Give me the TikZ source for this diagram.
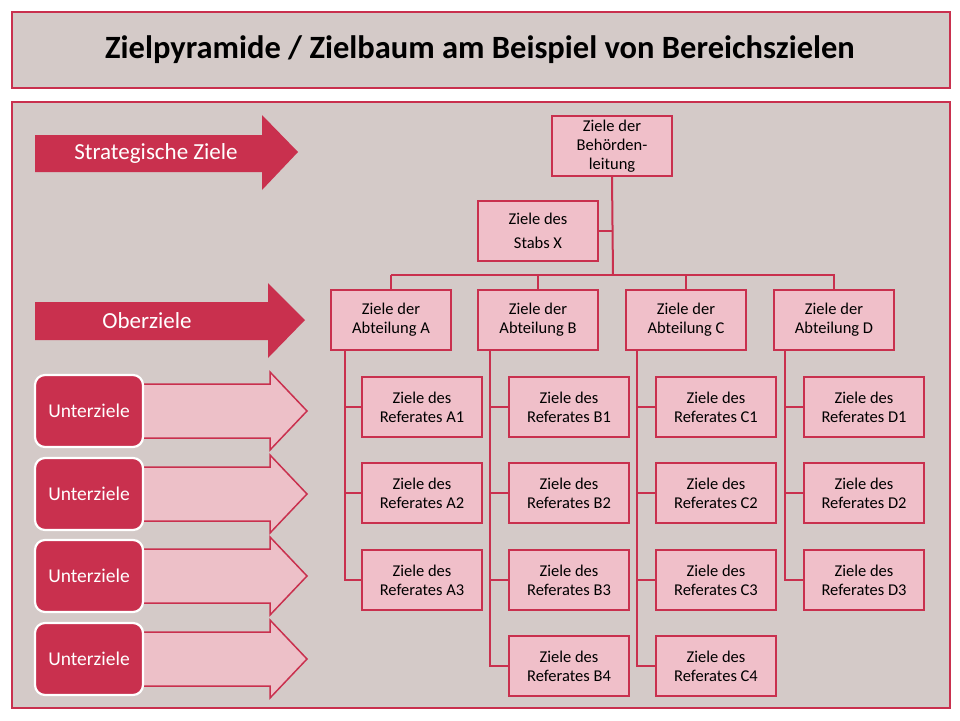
\documentclass[tikz,border=0pt]{standalone}
\usepackage{fontspec}
\setmainfont{Carlito}
\definecolor{crim}{HTML}{C9304E}
\definecolor{rose}{HTML}{F0BFC9}
\definecolor{bgr}{HTML}{D4CAC8}
\definecolor{lightarr}{HTML}{EDC0C8}
\tikzset{
  goal/.style={draw=crim,line width=2.2pt,fill=rose,minimum width=120pt,minimum height=60pt,
    align=center,font=\fontsize{16.5}{19}\selectfont,inner sep=0pt},
  link/.style={draw=crim,line width=2pt},
  frame/.style={draw=crim,line width=2pt,fill=bgr},
  levelbox/.style={draw=white,line width=2.2pt,fill=crim,rounded corners=10pt,text=white,
    minimum width=108pt,minimum height=72pt,font=\fontsize{19.5}{22}\selectfont,inner sep=0pt}
}
\begin{document}
\begin{tikzpicture}[x=1pt,y=-1pt]
\useasboundingbox (0,0) rectangle (960,720);
\draw [frame] (12,12) rectangle (950,88);
\node (title) at (480,50) {\fontsize{32.5}{36}\selectfont\bfseries Zielpyramide / Zielbaum am Beispiel von Bereichszielen};
\draw [frame] (12,102) rectangle (950,708);
% level arrows
\fill [crim] (35,135) -- (262,135) -- (262,115) -- (298,152) -- (262,190) -- (262,172) -- (35,172) -- cycle;
\node [text=white,font=\fontsize{23}{27}\selectfont] (strat) at (156,153) {Strategische Ziele};
\fill [crim] (35,302) -- (268,302) -- (268,283) -- (305,320) -- (268,358) -- (268,340) -- (35,340) -- cycle;
\node [text=white,font=\fontsize{23}{27}\selectfont] (ober) at (147,321) {Oberziele};
\foreach \y [count=\i] in {411,494,576,659} {
  \draw [draw=crim,line width=1.5pt,fill=lightarr] (100,\y-27) -- (270,\y-27) -- (270,\y-39)
    -- (307,\y) -- (270,\y+39) -- (270,\y+27) -- (100,\y+27) -- cycle;
  \node [levelbox] (unter\i) at (89,\y) {Unterziele};
}
% tree
\node [goal] (top) at (612,146) {Ziele der\\Behörden-\\leitung};
\node [goal] (stab) at (538,231) {Ziele des\\[5pt]Stabs X};
\coordinate (bus) at (613,275);
\draw [link] (top.south) -- (bus);
\draw [link] (stab.east) -- (top.south |- stab.east);
\draw [link] (391,275) -- (835,275);
\foreach \c/\x/\sx/\rx/\n in {A/391/345/422/3,B/538/490/569/4,C/686/637/716/4,D/834/785/864/3} {
  \node [goal] (abt\c) at (\x,320) {Ziele der\\Abteilung \c};
  \draw [link] (\x,275) -- (abt\c.north);
  \foreach \r [count=\k] in {407,493,580,666} {
    \ifnum\k>\n\else
      \node [goal] (ref\c\k) at (\rx,\r) {Ziele des\\Referates \c\k};
      \draw [link] (\sx,350) |- (ref\c\k.west);
    \fi
  }
}
\end{tikzpicture}
\end{document}
